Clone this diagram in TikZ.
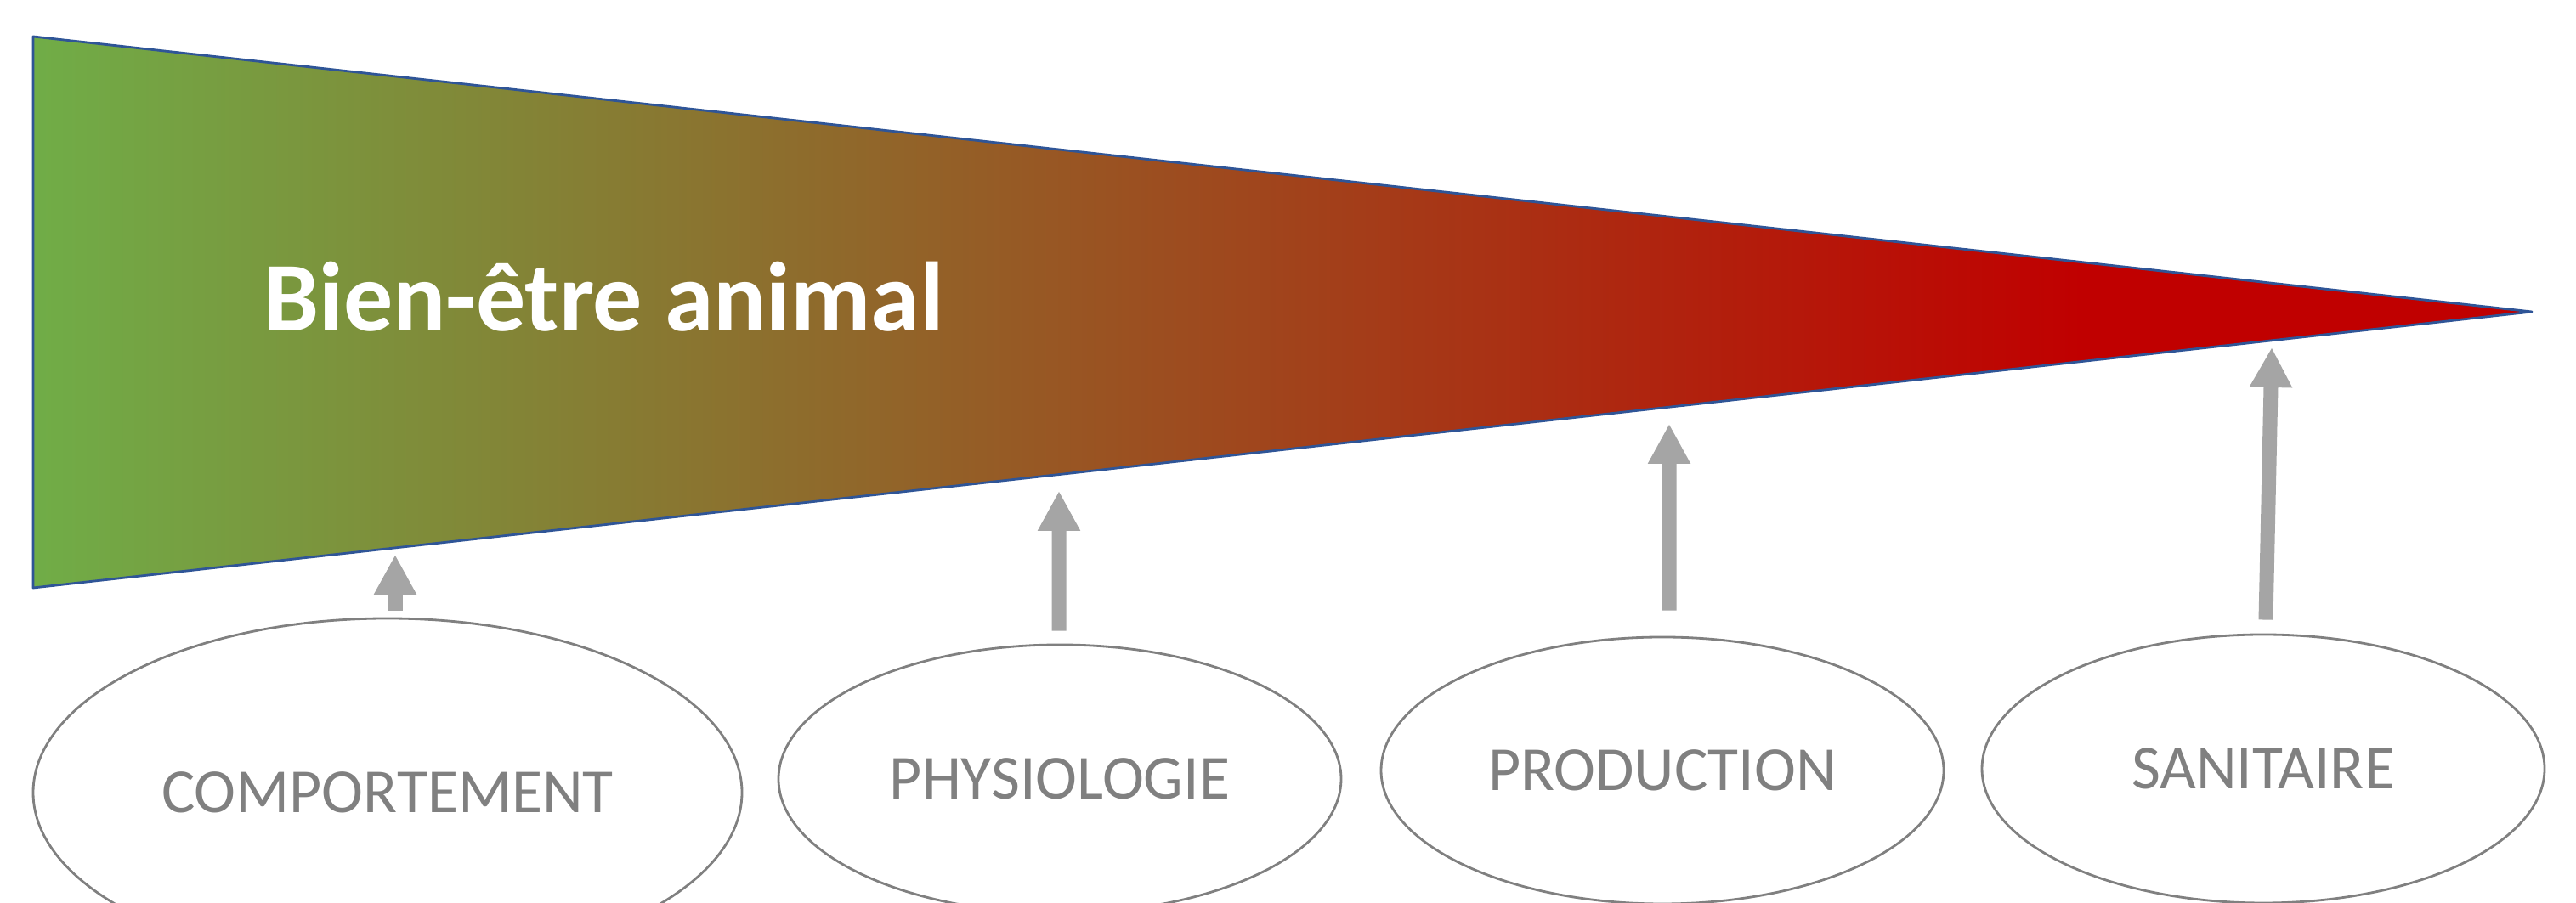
\documentclass[tikz,border=0pt]{standalone}
\usepackage{fontspec}
\setmainfont{Carlito}
\usetikzlibrary{arrows.meta,shapes.geometric,positioning}

\definecolor{wgreen}{HTML}{70AD47}
\definecolor{wred}{HTML}{C00000}
\definecolor{edgeblue}{HTML}{2F5597}
\definecolor{arrowgray}{HTML}{A5A5A5}
\definecolor{ovalgray}{HTML}{808080}
\pgfdeclarehorizontalshading{welfare}{100bp}{color(0bp)=(wgreen); color(25bp)=(wgreen); color(66bp)=(wred); color(100bp)=(wred)}

\begin{document}
\begin{tikzpicture}[line join=round,
		oval/.style={ellipse, draw=ovalgray, line width=0.8pt, inner sep=0pt, text=ovalgray, font=\fontsize{21}{25}\selectfont},
		uparrow/.style={-{Triangle[length=0.47cm,width=0.47cm]}, draw=arrowgray, line width=0.17cm}]
		
		\useasboundingbox (0,0) rectangle (30.31,10.63);
		
		% wedge (green to red)
		\coordinate (wtl) at (0.39,10.20);
		\coordinate (wbl) at (0.39,3.71);
		\coordinate (wtip) at (29.79,6.96);
		\shadedraw[shading=welfare, draw=edgeblue, line width=0.8pt] (wtl) -- (wtip) -- (wbl) -- cycle;
		\node[anchor=base west, text=white, font=\bfseries\fontsize{33}{40}\selectfont] (title) at (2.98,6.73) {Bien-être animal};
		
		% the four fields
		\node[oval, minimum width=8.34cm, minimum height=4.10cm] (comp) at (4.56,1.30) {COMPORTEMENT};
		\node[oval, minimum width=6.62cm, minimum height=3.16cm] (phys) at (12.47,1.46) {PHYSIOLOGIE};
		\node[oval, minimum width=6.62cm, minimum height=3.14cm] (prod) at (19.56,1.56) {PRODUCTION};
		\node[oval, minimum width=6.62cm, minimum height=3.16cm] (sani) at (26.63,1.58) {SANITAIRE};
		
		% arrow tips under the wedge
		\coordinate (t1) at (4.65,4.10);
		\coordinate (t2) at (12.46,4.85);
		\coordinate (t3) at (19.64,5.64);
		\coordinate (t4) at (26.73,6.54);
		
		\draw[uparrow] ([shift={(0.09,0.08)}]comp.north) -- (t1);
		\draw[uparrow] ([shift={(-0.01,0.15)}]phys.north) -- (t2);
		\draw[uparrow] ([shift={(0.08,0.30)}]prod.north) -- (t3);
		\draw[uparrow] ([shift={(0.03,0.16)}]sani.north) -- (t4);
		
	\end{tikzpicture}
\end{document}
